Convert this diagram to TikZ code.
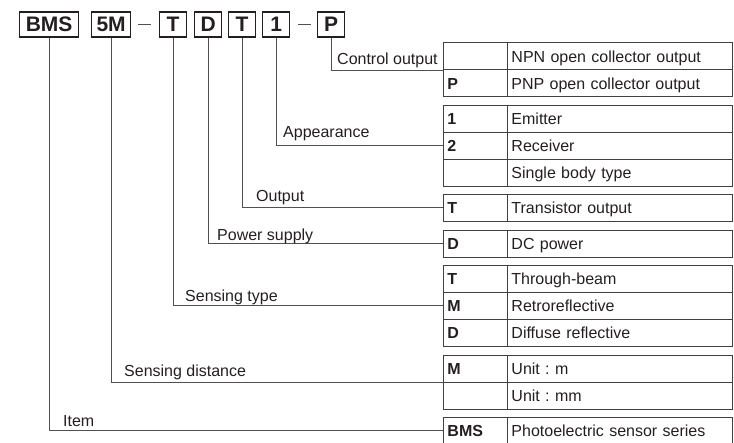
\documentclass[tikz,border=0pt]{standalone}
\usepackage{fontspec}
\setmainfont{Liberation Sans}
\definecolor{ink}{HTML}{231F20}
\definecolor{linec}{HTML}{505050}
\definecolor{tabc}{HTML}{404040}
\frenchspacing
\begin{document}
\begin{tikzpicture}[x=1pt,y=-1pt,
  codebox/.style={draw=ink, line width=1.3pt, minimum height=25pt, inner sep=0pt,
    font=\fontsize{21}{21}\selectfont\bfseries, text height=15pt, text depth=0pt,
    anchor=west, text=ink},
  cellbase/.style={draw=tabc, line width=0.9pt, anchor=north west, minimum height=27pt,
    inner xsep=4pt, inner ysep=0pt, align=left, text=ink,
    text height=11.5pt, text depth=0pt},
  codecell/.style={cellbase, minimum width=64pt, text width=56pt,
    font=\fontsize{16}{16}\selectfont\bfseries},
  desccell/.style={cellbase, minimum width=225pt, text width=217pt,
    font=\fontsize{16}{16}\selectfont},
  lbl/.style={anchor=base west, inner sep=0pt, font=\fontsize{16}{16}\selectfont, text=ink},
  conn/.style={draw=linec, line width=0.9pt},
]
\useasboundingbox (0,0) rectangle (734,443);

% top code boxes
\node[codebox, minimum width=59pt] (bBMS) at (19,24.5) {BMS};
\node[codebox, minimum width=39pt] (b5M) at (91,24.5) {5M};
\node[codebox, minimum width=27pt] (bT) at (159,24.5) {T};
\node[codebox, minimum width=27pt] (bD) at (194,24.5) {D};
\node[codebox, minimum width=27pt] (bT2) at (228,24.5) {T};
\node[codebox, minimum width=27pt] (b1) at (262,24.5) {1};
\node[codebox, minimum width=27pt] (bP) at (317,24.5) {P};
\draw[conn] ([xshift=7pt]b5M.east) -- ([xshift=20pt]b5M.east);
\draw[conn] ([xshift=8pt]b1.east) -- ([xshift=21pt]b1.east);

% table 1: control output
\node[codecell] (r1a) at (443,42.5) {};
\node[desccell] (d1a) at (507,42.5) {NPN open collector output};
\node[codecell] (r1b) at (443,69.5) {P};
\node[desccell] (d1b) at (507,69.5) {PNP open collector output};

% table 2: appearance
\node[codecell] (r2a) at (443,105) {1};
\node[desccell] (d2a) at (507,105) {Emitter};
\node[codecell] (r2b) at (443,132) {2};
\node[desccell] (d2b) at (507,132) {Receiver};
\node[codecell] (r2c) at (443,159) {};
\node[desccell] (d2c) at (507,159) {Single body type};

% table 3: output
\node[codecell] (r3a) at (443,194) {T};
\node[desccell] (d3a) at (507,194) {Transistor output};

% table 4: power supply
\node[codecell] (r4a) at (443,230) {D};
\node[desccell] (d4a) at (507,230) {DC power};

% table 5: sensing type
\node[codecell] (r5a) at (443,265) {T};
\node[desccell] (d5a) at (507,265) {Through-beam};
\node[codecell] (r5b) at (443,292) {M};
\node[desccell] (d5b) at (507,292) {Retroreflective};
\node[codecell] (r5c) at (443,319) {D};
\node[desccell] (d5c) at (507,319) {Diffuse reflective};

% table 6: sensing distance
\node[codecell] (r6a) at (443,355) {M};
\node[desccell] (d6a) at (507,355) {Unit : m};
\node[codecell] (r6b) at (443,382) {};
\node[desccell] (d6b) at (507,382) {Unit : mm};

% table 7: item
\node[codecell] (r7a) at (443,417) {BMS};
\node[desccell] (d7a) at (507,417) {Photoelectric sensor series};

% connectors
\draw[conn] (bP.south) |- (r1a.south west);
\draw[conn] (b1.south) |- (r2b.west);
\draw[conn] (bT2.south) |- (r3a.west);
\draw[conn] (bD.south) |- (r4a.west);
\draw[conn] (bT.south) |- (r5b.west);
\draw[conn] (b5M.south) |- (r6a.south west);
\draw[conn] (bBMS.south) |- (r7a.west);

% labels
\node[lbl] (lc) at (337,65) {Control output};
\node[lbl] (la) at (283,138) {Appearance};
\node[lbl] (lo) at (256,202) {Output};
\node[lbl] (lp) at (217,240.5) {Power supply};
\node[lbl] (ls) at (185,301.5) {Sensing type};
\node[lbl] (ld) at (124,377) {Sensing distance};
\node[lbl] (li) at (63,427) {Item};
\end{tikzpicture}
\end{document}
